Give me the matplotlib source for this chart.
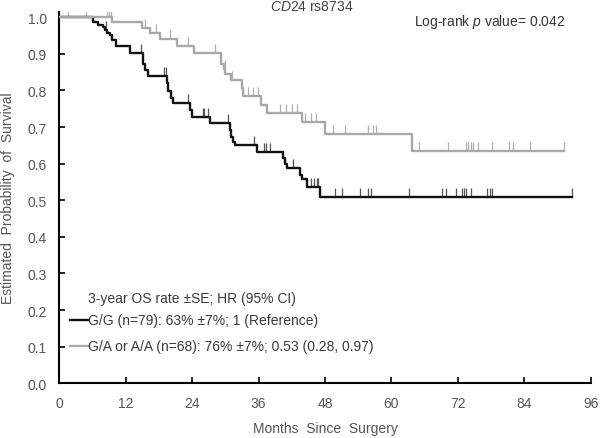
import numpy as np
import matplotlib.pyplot as plt

plt.rcParams['font.family'] = ['Liberation Sans', 'DejaVu Sans']
plt.rcParams['mathtext.fontset'] = 'custom'
plt.rcParams['mathtext.rm'] = 'Liberation Sans'
plt.rcParams['mathtext.it'] = 'Liberation Sans:italic'

# G/G group (black)
gg_times = [6.1, 7.0, 7.9, 8.3, 8.6, 9.2, 9.5, 10.2, 12.8, 15.2, 15.5, 16.0,
            19.4, 19.7, 20.2, 20.6, 23.6, 23.9, 27.2, 30.8, 31.1, 31.4, 31.7,
            35.7, 40.5, 40.8, 41.1, 43.5, 43.8, 44.7, 47.1]
gg_surv = [0.987, 0.979, 0.972, 0.965, 0.958, 0.950, 0.938, 0.920, 0.901,
           0.872, 0.856, 0.838, 0.819, 0.799, 0.780, 0.765, 0.746, 0.728,
           0.710, 0.692, 0.674, 0.660, 0.650, 0.632, 0.614, 0.600, 0.587,
           0.568, 0.557, 0.537, 0.509]
gg_end = 92.7
gg_censor = [8.4, 14.8, 18.9, 19.2, 23.2, 25.9, 26.2, 26.9, 30.5, 35.2, 36.9,
             37.3, 38.1, 42.3, 45.4, 46.0, 46.5, 46.8, 49.8, 51.0, 54.3, 55.8,
             56.3, 63.2, 69.2, 69.8, 71.6, 72.7, 73.1, 73.4, 74.3, 77.3, 77.8,
             78.2, 92.7]

# G/A or A/A group (gray)
ga_times = [9.5, 14.9, 16.4, 18.2, 21.3, 24.3, 29.2, 29.7, 30.0, 31.1, 33.0,
            33.1, 36.4, 37.5, 43.8, 48.0, 63.8]
ga_surv = [0.986, 0.971, 0.956, 0.941, 0.921, 0.903, 0.873, 0.858, 0.844,
           0.828, 0.807, 0.785, 0.760, 0.737, 0.714, 0.680, 0.635]
ga_end = 91.1
ga_censor = [1.6, 4.9, 8.7, 9.0, 9.3, 15.4, 17.5, 20.0, 23.3, 28.2, 29.9,
             31.2, 33.2, 34.1, 35.0, 35.9, 39.9, 41.0, 42.0, 43.0, 44.4, 45.5,
             46.3, 49.5, 51.6, 55.8, 56.7, 57.3, 64.9, 70.3, 73.5, 73.9, 74.3,
             74.8, 75.7, 78.1, 81.2, 81.9, 85.0, 91.1]

groups = [
    (gg_times, gg_surv, gg_end, gg_censor, '#111111', '#555555'),
    (ga_times, ga_surv, ga_end, ga_censor, '#a8a8a8', '#b0b0b0'),
]

fig = plt.figure(figsize=(6.0, 4.39), dpi=100)
ax = fig.add_axes([0.0988, 0.1246, 0.8857, 0.8457])

for times, surv, end, censor, color, tick_color in groups:
    t = np.r_[0, times, end]
    s = np.r_[1.0, surv, surv[-1]]
    ax.step(t, s, where='post', color=color, lw=1.7, zorder=3)
    # censor marks sit on the curve value at that time
    idx = np.searchsorted(t, censor, side='right') - 1
    lvl = s[idx]
    ax.vlines(censor, lvl, lvl + 0.025, color=tick_color, lw=0.9, zorder=2)

ax.set_xlim(0, 96)
ax.set_ylim(0, 1.014)
ax.set_xticks(np.arange(0, 97, 12))
ax.set_yticks(np.arange(0, 1.01, 0.1))
ax.set_yticklabels([f'{v:.1f}' for v in np.arange(0, 1.01, 0.1)])
ax.tick_params(direction='in', length=4, width=1.2, pad=9,
               labelsize=10, labelcolor='#555555', color='black')
for side in ['top', 'right']:
    ax.spines[side].set_visible(False)
for side in ['left', 'bottom']:
    ax.spines[side].set_linewidth(1.5)

ax.set_xlabel('Months  Since  Surgery', fontsize=10, color='#555555', labelpad=8)
ax.set_ylabel('Estimated  Probability  of  Survival', fontsize=10,
              color='#555555', labelpad=9)

ax.text(45.6, 1.03, r'$\it{CD24}$ rs8734', ha='center', va='center',
        fontsize=10, color='#444444', clip_on=False)
ax.text(77.8, 0.99, r'Log-rank $\it{p}$ value= 0.042', ha='center',
        va='center', fontsize=10, color='#333333')

# legend block
txt = '#3a3a3a'
ax.text(5.24, 0.233, '3-year OS rate \u00b1SE; HR (95% CI)', fontsize=10,
        color=txt, va='center')
ax.plot([1.93, 5.1], [0.173, 0.173], color='#111111', lw=1.7)
ax.text(5.24, 0.173, 'G/G (n=79): 63% \u00b17%; 1 (Reference)', fontsize=10,
        color=txt, va='center')
ax.plot([1.93, 5.1], [0.101, 0.101], color='#a8a8a8', lw=1.7)
ax.text(5.24, 0.101, 'G/A or A/A (n=68): 76% \u00b17%; 0.53 (0.28, 0.97)',
        fontsize=10, color=txt, va='center')

plt.savefig('out.png', dpi=100)
